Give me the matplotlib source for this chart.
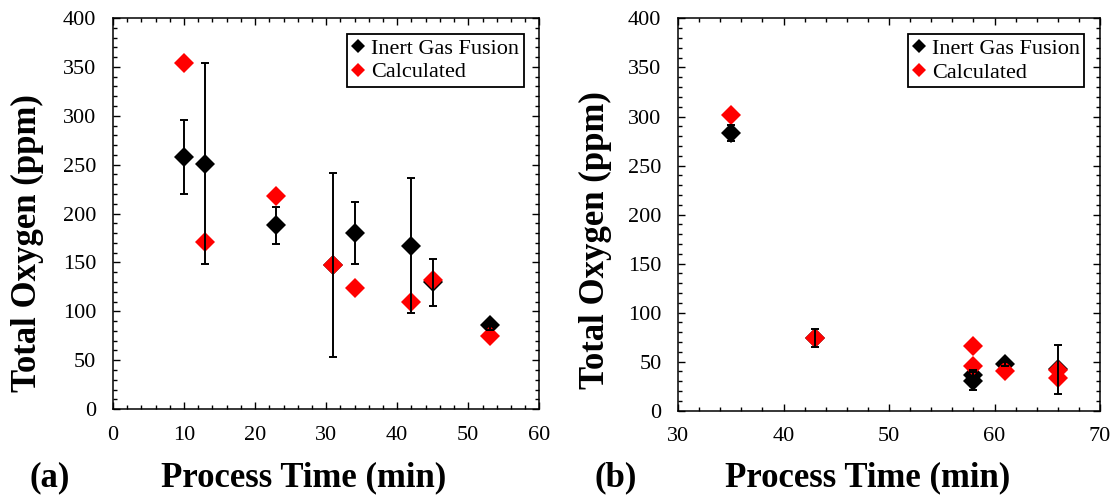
import numpy as np
from matplotlib import pyplot as plt
from matplotlib.ticker import MultipleLocator

plt.rcParams['font.family'] = ['Liberation Serif', 'DejaVu Serif']

# panel (a)
time_a = [10, 13, 23, 31, 34, 42, 45, 53]
igf_a = [258, 251, 188, 147, 180, 167, 130, 86]
igf_err_a = [38, 103, 19, 94, 32, 69, 24, 5]
calc_a = [354, 171, 218, 147, 124, 110, 132, 75]

# panel (b)
time_b = [35, 43, 58, 58, 61, 66]
igf_b = [283, 74, 36, 30, 48, 42]
igf_err_b = [8, 9, 5, 9, 2, 25]
calc_time_b = [35, 43, 58, 58, 61, 66, 66]
calc_b = [302, 74, 66, 46, 40, 41, 33]


def panel(ax, t, igf, err, tc, calc, xlim, xmajor, xminor):
    # black markers under red ones, error bars drawn on top of everything
    ax.plot(t, igf, 'D', color='k', ms=10, mew=0, zorder=2, label='Inert Gas Fusion')
    ax.plot(tc, calc, 'D', color='#ff0000', ms=10, mew=0, zorder=3, label='Calculated')
    ax.errorbar(t, igf, yerr=err, fmt='none', ecolor='k', elinewidth=1.4,
                capsize=3, capthick=1.4, zorder=4)

    ax.set_xlim(*xlim)
    ax.set_ylim(0, 400)
    ax.xaxis.set_major_locator(MultipleLocator(xmajor))
    ax.xaxis.set_minor_locator(MultipleLocator(xminor))
    ax.yaxis.set_major_locator(MultipleLocator(50))
    ax.yaxis.set_minor_locator(MultipleLocator(10))
    ax.tick_params(which='both', direction='in', top=True, right=True, width=1)
    ax.tick_params(which='major', length=5, labelsize=16)
    ax.tick_params(which='minor', length=3)
    ax.tick_params(axis='y', pad=12)
    ax.tick_params(axis='x', pad=12)
    for s in ax.spines.values():
        s.set_linewidth(1.1)

    leg = ax.legend(loc='upper right', fontsize=16, markerscale=0.75,
                    handlelength=0.6, handletextpad=0.3, borderpad=0.2,
                    labelspacing=0.15, borderaxespad=0.7, fancybox=False,
                    framealpha=1, edgecolor='k')
    leg.get_frame().set_linewidth(1.3)


fig = plt.figure(figsize=(11.19, 4.99), dpi=100)
ax1 = fig.add_axes([0.101, 0.180, 0.381, 0.784])
ax2 = fig.add_axes([0.606, 0.177, 0.377, 0.786])

panel(ax1, time_a, igf_a, igf_err_a, time_a, calc_a, (0, 60), 10, 2)
panel(ax2, time_b, igf_b, igf_err_b, calc_time_b, calc_b, (30, 70), 10, 2)

lab = dict(fontsize=25, fontweight='bold', ha='center', va='center')
fig.text(0.025, 0.513, 'Total Oxygen (ppm)', rotation=90, **lab)
fig.text(0.532, 0.519, 'Total Oxygen (ppm)', rotation=90, **lab)
fig.text(0.271, 0.042, 'Process Time (min)', **lab)
fig.text(0.775, 0.042, 'Process Time (min)', **lab)
fig.text(0.044, 0.042, '(a)', **lab)
fig.text(0.5505, 0.042, '(b)', **lab)

fig.savefig('out.png', dpi=100)
